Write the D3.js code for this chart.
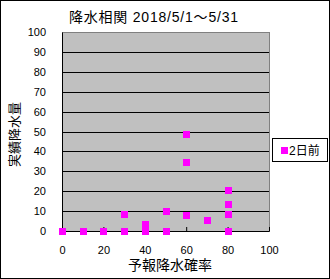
<!DOCTYPE html>
<html>
<head>
<meta charset="utf-8">
<script src="https://cdn.jsdelivr.net/npm/d3@7"></script>
<style>
  body { margin: 0; background: #fff; }
  text { font-family: "Liberation Sans", "Noto Sans CJK JP", sans-serif; }
</style>
</head>
<body>
<svg id="chart"></svg>
<script>
// forecast probability (%) vs actual rainfall (mm), 2 days ahead
const forecast = [0, 10, 20, 30, 30, 40, 40, 50, 50, 60, 60, 60, 70, 80, 80, 80, 80];
const actual   = [0, 0, 0, 0, 8.5, 0, 3.5, 0, 10, 48.5, 34.5, 8, 5.5, 20.5, 13.5, 8.5, 0];
const xTicks = [0, 20, 40, 60, 80, 100];
const yTicks = [0, 10, 20, 30, 40, 50, 60, 70, 80, 90, 100];
const seriesName = '2日前';
const title = '降水相関  2018/5/1～5/31';

const size = { w: 330, h: 279 };
const plot = { l: 62, t: 32, r: 269, b: 231 };

const svg = d3.select('svg#chart')
    .attr('width', size.w)
    .attr('height', size.h);

// outer frame
svg.append('rect')
    .attr('x', 0.5).attr('y', 0.5)
    .attr('width', size.w - 1).attr('height', size.h - 1)
    .attr('fill', '#fff').attr('stroke', '#000');

const x = d3.scaleLinear().domain([0, 100]).range([plot.l, plot.r]);
const y = d3.scaleLinear().domain([0, 100]).range([plot.b, plot.t]);

// plot background
svg.append('rect')
    .attr('x', plot.l + 0.5).attr('y', plot.t + 0.5)
    .attr('width', plot.r - plot.l).attr('height', plot.b - plot.t)
    .attr('fill', '#c0c0c0').attr('stroke', '#808080');

// gridlines
svg.append('g')
    .selectAll('line')
    .data(yTicks.filter(d => d > 0 && d < 100))
    .join('line')
    .attr('x1', plot.l).attr('x2', plot.r)
    .attr('y1', d => Math.round(y(d)) + 0.5)
    .attr('y2', d => Math.round(y(d)) + 0.5)
    .attr('stroke', '#000');

// axes
const xAxis = svg.append('g')
    .attr('transform', `translate(0, ${plot.b})`)
    .call(d3.axisBottom(x).tickValues(xTicks).tickSizeInner(-4).tickSizeOuter(0).tickPadding(15));
const yAxis = svg.append('g')
    .attr('transform', `translate(${plot.l}, 0)`)
    .call(d3.axisLeft(y).tickValues(yTicks).tickSize(0).tickPadding(16));

[xAxis, yAxis].forEach(g => {
    g.selectAll('text').attr('font-size', 11).attr('fill', '#000')
        .attr('font-family', '"Liberation Sans", sans-serif');
    g.select('.domain').attr('stroke', '#000');
});
xAxis.selectAll('.tick line').attr('stroke', '#000');

// points
svg.append('g')
    .selectAll('rect')
    .data(forecast.map((f, i) => ({ f, a: actual[i] })))
    .join('rect')
    .attr('x', d => Math.round(x(d.f)) - 3)
    .attr('y', d => Math.round(y(d.a)) - 3)
    .attr('width', 7).attr('height', 7)
    .attr('fill', '#ff00ff');

// titles
svg.append('text')
    .attr('x', 69).attr('y', 22)
    .attr('font-size', 14)
    .attr('textLength', 169)
    .attr('lengthAdjust', 'spacing')
    .text(title);

svg.append('text')
    .attr('x', 170).attr('y', 270)
    .attr('text-anchor', 'middle')
    .attr('font-size', 14)
    .text('予報降水確率');

svg.append('text')
    .attr('transform', `translate(19, ${(plot.t + plot.b) / 2 + 3}) rotate(-90)`)
    .attr('text-anchor', 'middle')
    .attr('font-size', 13)
    .text('実績降水量');

// legend
const legend = svg.append('g').attr('transform', 'translate(272, 138)');
legend.append('rect')
    .attr('x', 0.5).attr('y', 0.5)
    .attr('width', 55).attr('height', 23)
    .attr('fill', '#fff').attr('stroke', '#000');
legend.append('rect')
    .attr('x', 9).attr('y', 9)
    .attr('width', 7).attr('height', 7)
    .attr('fill', '#ff00ff');
legend.append('text')
    .attr('x', 17).attr('y', 17)
    .attr('font-size', 12)
    .text(seriesName);
</script>
</body>
</html>
